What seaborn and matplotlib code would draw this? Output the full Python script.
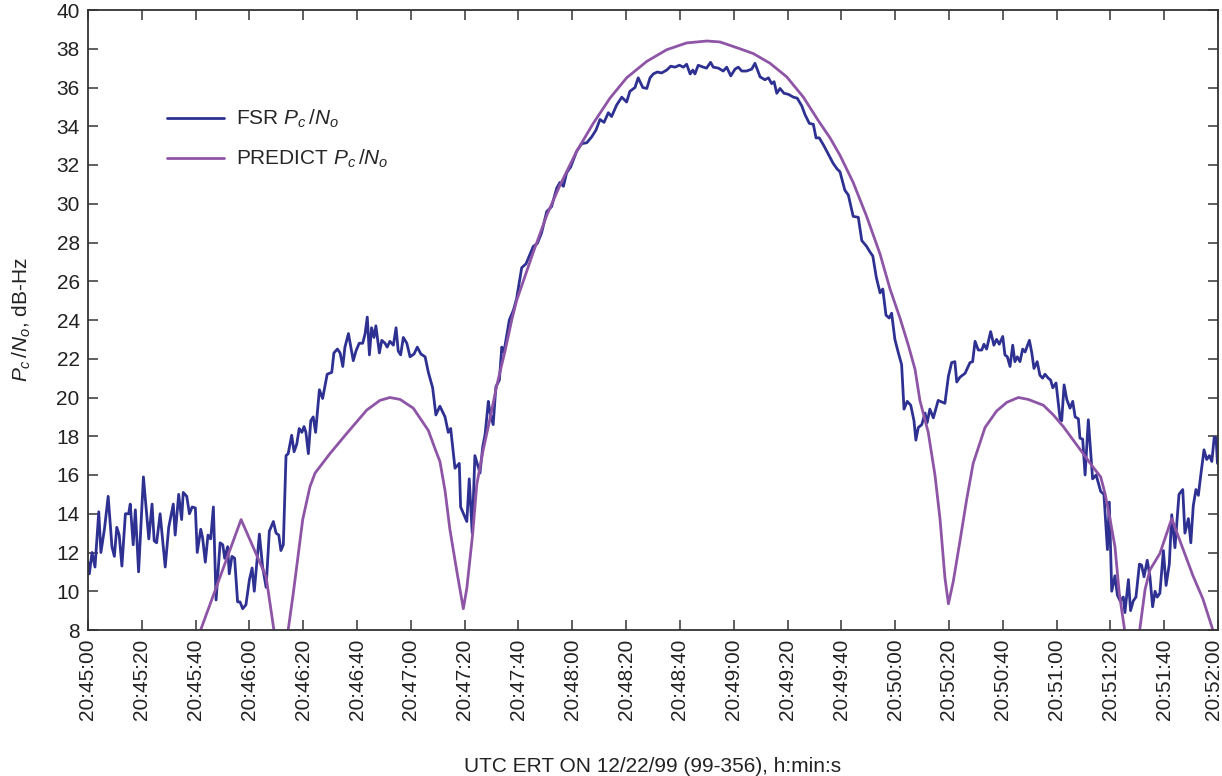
import matplotlib
matplotlib.use("Agg")
import matplotlib.pyplot as plt
import matplotlib.transforms as mtransforms
import seaborn as sns

# ---- data (seconds after 20:45:00, dB-Hz) ----
fsr_t = [0.0, 0.5, 1.5, 2.6, 4.0, 4.8, 6.1, 7.5, 8.9, 9.8, 10.7, 11.6, 12.6, 13.9, 15.1, 15.7,
         16.8, 17.6, 18.8, 20.6, 22.6, 23.8, 24.6, 25.5, 26.8, 28.7, 30.0, 31.7, 32.4, 33.7,
         34.8, 35.4, 36.7, 37.7, 38.7, 39.9, 40.6, 41.9, 42.6, 43.6, 44.6, 45.6, 46.6, 47.6,
         49.1, 50.1, 50.8, 51.9, 52.5, 53.5, 54.5, 55.6, 56.5, 57.5, 58.7, 60.0, 61.0, 61.8,
         63.7, 64.9, 66.2, 67.4, 68.9, 69.9, 70.9, 71.7, 72.6, 73.6, 74.4, 75.7, 76.6, 77.6,
         78.5, 79.5, 80.3, 81.0, 81.9, 82.8, 83.7, 84.6, 86.0, 87.2, 88.9, 90.6, 91.4, 92.7,
         93.7, 94.7, 95.5, 96.8, 98.6, 99.6, 100.8, 102.1, 103.0, 103.8, 104.6, 105.4, 106.3,
         107.0, 108.3, 109.2, 110.4, 111.2, 112.2, 113.5, 114.5, 115.3, 116.2, 117.2, 118.5,
         119.7, 121.2, 122.4, 123.7, 125.3, 126.5, 128.1, 129.3, 130.8, 132.7, 133.9, 134.8,
         136.4, 138.0, 138.5, 140.8, 141.7, 142.8, 143.8, 145.7, 146.7, 147.6, 148.8, 149.4,
         150.6, 151.6, 152.9, 153.8, 154.6, 156.6, 158.1, 159.3, 161.2, 162.8, 165.5, 167.0,
         168.6, 170.5, 172.3, 174.2, 175.4, 176.7, 177.9, 179.4, 181.6, 183.5, 185.4, 187.2,
         188.8, 190.3, 191.8, 193.4, 194.6, 196.5, 198.4, 200.2, 201.4, 203.3, 204.5, 206.2,
         207.7, 208.9, 210.1, 211.6, 213.2, 215.1, 216.6, 218.2, 219.8, 221.3, 222.5, 223.8,
         224.8, 225.6, 226.8, 228.7, 229.9, 231.4, 232.4, 234.3, 236.1, 237.4, 238.9, 240.5,
         241.7, 243.0, 244.8, 246.7, 247.9, 249.8, 251.6, 252.9, 254.1, 255.0, 256.0, 257.2,
         258.7, 260.3, 262.2, 263.6, 265.3, 266.5, 268.1, 269.6, 270.6, 271.8, 273.5, 275.0,
         276.9, 278.4, 279.5, 281.3, 282.6, 284.4, 286.3, 287.6, 289.4, 290.7, 291.7, 293.0,
         294.4, 295.4, 296.6, 297.8, 298.7, 299.9, 301.2, 302.4, 303.3, 304.5, 305.8, 307.0,
         307.7, 308.6, 309.9, 311.1, 311.9, 312.9, 314.2, 316.0, 318.5, 319.8, 321.0, 322.2,
         322.9, 324.1, 326.0, 327.8, 328.8, 329.7, 330.9, 332.2, 333.0, 334.0, 335.5, 336.7,
         337.7, 338.7, 340.0, 340.8, 341.7, 342.7, 343.7, 344.5, 345.4, 346.4, 347.4, 348.3,
         349.9, 350.8, 351.6, 352.8, 353.8, 354.8, 355.7, 356.9, 357.8, 358.6, 359.8, 361.3,
         361.9, 362.8, 363.8, 365.0, 366.0, 366.9, 368.1, 368.7, 369.7, 370.6, 371.8, 373.4,
         374.7, 375.5, 376.4, 377.6, 378.9, 379.6, 380.5, 381.7, 382.6, 383.6, 384.8, 385.4,
         386.7, 387.5, 388.5, 389.5, 390.8, 391.6, 392.5, 393.7, 394.7, 395.7, 396.6, 397.4,
         398.4, 399.7, 400.7, 401.9, 402.8, 404.0, 405.5, 406.9, 407.7, 409.0, 409.9, 410.8,
         411.8, 412.7, 413.6, 414.8, 415.8, 416.8, 417.7, 418.6, 419.3, 419.8]
fsr_v = [11.5, 10.9, 12.0, 11.25, 14.1, 12.0, 13.2, 14.9, 12.3, 11.8, 13.3, 12.9, 11.3, 14.0, 14.0, 14.5,
         12.4, 14.2, 11.0, 15.9, 12.7, 14.5, 12.6, 12.5, 14.0, 11.25, 13.3, 14.5, 12.9, 15.0,
         13.7, 15.1, 14.9, 14.0, 14.35, 14.3, 12.0, 13.2, 12.75, 11.5, 12.9, 12.7, 14.35, 9.55,
         12.5, 12.4, 11.7, 12.3, 10.9, 11.8, 11.7, 9.45, 9.45, 9.1, 9.3, 10.6, 11.2, 10.0,
         12.95, 11.25, 10.2, 13.1, 13.6, 13.0, 12.9, 12.1, 12.4, 17.0, 17.1, 18.05, 17.2, 17.6,
         18.4, 18.2, 18.5, 18.2, 17.1, 18.8, 19.0, 18.2, 20.4, 19.95, 21.2, 21.3, 22.3, 22.5,
         22.3, 21.6, 22.6, 23.3, 21.9, 22.4, 22.8, 22.8, 23.3, 24.15, 22.2, 23.6, 23.1,
         23.7, 22.3, 22.95, 22.8, 22.6, 22.9, 22.7, 23.6, 22.4, 22.2, 23.1, 22.8,
         22.1, 22.25, 22.6, 22.25, 22.1, 21.3, 20.5, 19.1, 19.55, 19.0, 18.2, 18.4,
         16.35, 16.6, 14.35, 13.6, 15.8, 13.0, 17.0, 16.1, 17.45, 18.1, 19.8, 19.25,
         18.6, 20.55, 20.9, 22.6, 22.35, 24.0, 24.5, 25.1, 26.7, 26.9, 27.8, 27.95,
         28.5, 29.6, 29.85, 30.8, 31.1, 30.9, 31.6, 31.9, 32.7, 33.1, 33.15, 33.45,
         33.8, 34.35, 34.2, 34.7, 34.5, 35.1, 35.5, 35.25, 35.8, 36.0, 36.5, 36.0,
         35.95, 36.5, 36.7, 36.8, 36.75, 36.9, 37.1, 37.05, 37.15, 37.05, 37.2, 36.7,
         36.9, 36.7, 37.15, 37.05, 37.0, 37.3, 37.05, 37.0, 36.85, 37.05, 36.6, 36.95,
         37.05, 36.85, 36.85, 36.95, 37.25, 36.55, 36.4, 36.5, 36.2, 36.3, 35.7, 35.95,
         35.7, 35.65, 35.5, 35.45, 35.05, 34.6, 34.15, 34.1, 33.4, 33.4, 33.0, 32.6,
         32.1, 31.8, 31.65, 30.7, 30.45, 29.35, 29.3, 28.1, 27.8, 27.5, 27.3, 26.2,
         25.4, 25.6, 24.25, 24.1, 24.35, 23.0, 22.3, 21.7, 19.4, 19.8, 19.6, 18.8,
         17.8, 18.45, 18.6, 19.2, 18.7, 19.4, 18.95, 19.85, 19.7, 21.1, 21.8, 21.85,
         20.8, 21.05, 21.25, 21.8, 21.85, 22.9, 22.45, 22.45, 22.75, 22.5, 23.4, 22.7,
         23.0, 22.75, 23.15, 22.2, 22.1, 21.6, 22.7, 21.85, 22.1, 21.85, 22.5, 22.35,
         22.95, 22.3, 21.5, 21.85, 21.15, 21.0, 21.2, 21.0, 20.9, 20.5, 20.75, 18.9,
         18.8, 20.65, 19.9, 19.45, 19.8, 19.0, 18.9, 17.9, 17.85, 16.0, 18.85, 15.8,
         16.0, 15.6, 15.15, 15.0, 12.15, 14.6, 10.0, 10.8, 9.8, 9.5, 9.7, 8.9,
         10.6, 9.0, 9.5, 9.7, 11.4, 11.35, 10.75, 11.6, 10.75, 9.2, 10.0, 9.7,
         9.9, 12.1, 10.3, 11.4, 13.95, 12.25, 15.0, 15.25, 13.0, 13.75, 12.5, 14.4,
         15.25, 14.95, 16.0, 17.3, 16.8, 17.0, 16.7, 17.95, 17.9, 16.6]

pred_t = [39.8, 41.6, 56.9, 66.2, 69.2, 71.7, 74.4, 76.3, 78.2, 79.8, 82.5, 84.4, 89.9, 96.2,
          103.6, 108.5, 112.2, 116.0, 120.9, 126.5, 129.0, 130.8, 132.7, 134.5, 137.0, 139.5,
          140.8, 143.0, 144.5, 146.9, 149.4, 151.9, 155.0, 157.5, 159.3, 165.5, 170.5, 175.4,
          181.6, 187.8, 194.0, 200.2, 207.7, 215.1, 222.5, 230.0, 234.9, 242.3, 247.3, 253.5,
          259.7, 265.9, 271.4, 275.8, 279.5, 284.4, 289.4, 294.4, 298.1, 301.8, 304.9, 307.4, 309.2,
          312.3, 314.8, 316.7, 318.5, 319.8, 321.6, 324.1, 326.6, 329.0, 333.4, 337.7, 341.5,
          345.8, 349.5, 355.1, 358.8, 362.5, 366.2, 369.9, 373.6, 376.4, 378.0, 379.9, 381.7,
          383.3, 385.4, 388.0, 390.8, 392.9, 394.7, 398.4, 402.8, 406.4, 410.7, 414.4, 418.1, 420.0]
pred_v = [7.2, 7.9, 13.7, 10.75, 7.9, 6.0, 8.0, 9.9, 11.95, 13.7, 15.4, 16.1, 17.1, 18.15,
          19.35, 19.85, 20.0, 19.9, 19.45, 18.3, 17.35, 16.7, 15.2, 13.2, 11.1, 9.1,
          10.15, 13.0, 15.5, 17.3, 18.9, 20.6, 22.4, 24.0, 25.0, 27.5, 29.4, 30.95,
          32.7, 34.15, 35.45, 36.5, 37.35, 37.95, 38.3, 38.4, 38.35, 38.0, 37.75, 37.25,
          36.55, 35.5, 34.3, 33.4, 32.5, 31.1, 29.35, 27.4, 25.6, 24.1, 22.7, 21.45, 19.85,
          18.2, 16.0, 13.7, 10.7, 9.35, 10.5, 12.6, 14.75, 16.6, 18.45, 19.3, 19.75,
          20.0, 19.9, 19.6, 19.1, 18.5, 17.8, 17.1, 16.4, 15.9, 15.05, 13.7, 12.3,
          9.9, 7.9, 6.0, 7.9, 10.1, 11.1, 11.95, 13.75, 12.4, 10.8, 9.6, 8.0, 7.2]

x_ticks = list(range(0, 421, 20))
x_tick_labels = ["20:45:00", "20:45:20", "20:45:40", "20:46:00", "20:46:20", "20:46:40",
                 "20:47:00", "20:47:20", "20:47:40", "20:48:00", "20:48:20", "20:48:40",
                 "20:49:00", "20:49:20", "20:49:40", "20:50:00", "20:50:20", "20:50:40",
                 "20:51:00", "20:51:20", "20:51:40", "20:52:00"]
y_ticks = list(range(8, 41, 2))

series_names = ["FSR $P_c\\,/N_o$", "PREDICT $P_c\\,/N_o$"]
colors = ["#2e3192", "#8e55a7"]

# ---- style ----
sns.set_style("ticks")
plt.rcParams["font.family"] = ["Liberation Sans", "DejaVu Sans"]
plt.rcParams["mathtext.fontset"] = "custom"
plt.rcParams["mathtext.rm"] = "Liberation Sans"
plt.rcParams["mathtext.it"] = "Liberation Sans:italic"

FS = 15
fig = plt.figure(figsize=(12.22, 7.76), dpi=100)
ax = fig.add_axes([88 / 1222, 1 - 630 / 776, 1130 / 1222, 620 / 776])

sns.lineplot(x=fsr_t, y=fsr_v, ax=ax, color=colors[0], linewidth=2.0,
             estimator=None, label=series_names[0])
sns.lineplot(x=pred_t, y=pred_v, ax=ax, color=colors[1], linewidth=2.0,
             estimator=None, label=series_names[1])

ax.set_xlim(0, 420)
ax.set_ylim(8, 40)
ax.set_xticks(x_ticks)
ax.set_xticklabels(x_tick_labels, rotation=90)
ax.set_yticks(y_ticks)
ax.tick_params(axis="both", direction="in", length=7, width=1.2, color="#444444",
               labelsize=FS, labelcolor="#222222", top=True, right=True, pad=6)
for sp in ax.spines.values():
    sp.set_visible(True)
    sp.set_linewidth(1.3)
    sp.set_color("#333333")

# keep the last rotated tick label inside the canvas
last = ax.get_xticklabels()[-1]
last.set_transform(last.get_transform() + mtransforms.ScaledTranslation(-4 / 100, 0, fig.dpi_scale_trans))

ax.set_xlabel("UTC ERT ON 12/22/99 (99-356), h:min:s", fontsize=FS, color="#222222", labelpad=27)
ax.set_ylabel("$P_c\\,/N_o$, dB-Hz", fontsize=FS, color="#222222", labelpad=17)

leg = ax.legend(loc="upper left", bbox_to_anchor=(0.053, 0.872), frameon=False,
                fontsize=FS, handlelength=2.75, handletextpad=0.6, labelspacing=0.85)
for line in leg.get_lines():
    line.set_linewidth(2.0)

fig.savefig("out.png", dpi=100)
